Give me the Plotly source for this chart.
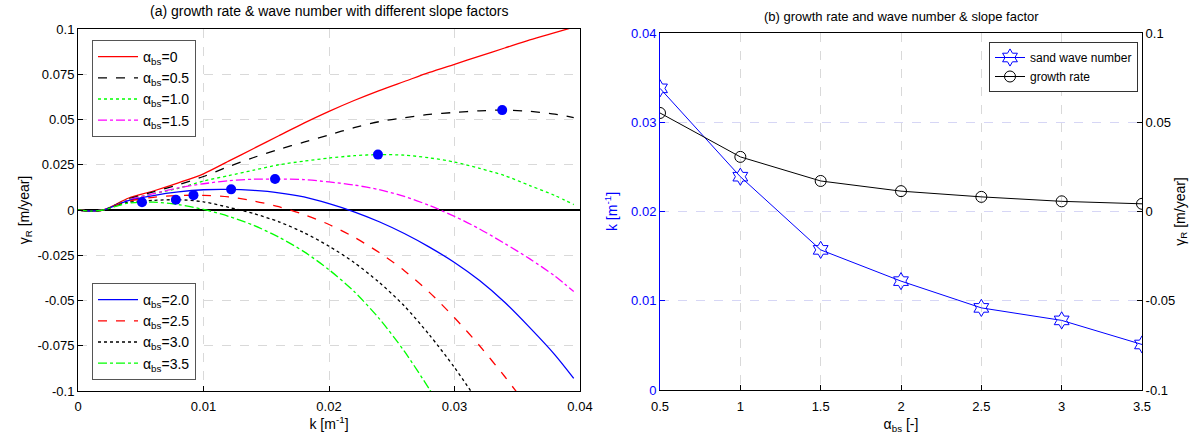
import plotly.graph_objects as go

# ---------------- data: panel (a) ----------------
k_grid = [0, 0.001, 0.002, 0.003, 0.004, 0.006, 0.008, 0.010, 0.012, 0.014, 0.016,
          0.018, 0.020, 0.022, 0.024, 0.026, 0.028, 0.030, 0.032, 0.034, 0.036, 0.038, 0.0395]

g_a00 = [0, -0.0006, 0.0, 0.003, 0.0065, 0.0105, 0.015, 0.020, 0.027, 0.034, 0.041,
         0.048, 0.0545, 0.0605, 0.066, 0.071, 0.076, 0.0805, 0.085, 0.0895, 0.094, 0.098, 0.101]
g_a05 = [0, -0.0006, 0.0, 0.0028, 0.006, 0.010, 0.014, 0.0185, 0.024, 0.029, 0.0335,
         0.0375, 0.0415, 0.0455, 0.0488, 0.051, 0.0528, 0.0539, 0.0548, 0.0552, 0.0545, 0.053, 0.051]
g_a10 = [0, -0.0006, 0.0, 0.0027, 0.0057, 0.009, 0.012, 0.016, 0.019, 0.022, 0.025,
         0.027, 0.0287, 0.030, 0.0306, 0.0303, 0.0288, 0.0265, 0.023, 0.019, 0.0135, 0.008, 0.003]
g_a15 = [0, -0.0006, 0.0, 0.0026, 0.0055, 0.009, 0.0122, 0.0145, 0.0162, 0.0170, 0.0171,
         0.0168, 0.0155, 0.0138, 0.0112, 0.0075, 0.0025, -0.0035, -0.0105, -0.0185, -0.027, -0.0365, -0.045]
g_a20 = [0, -0.0006, 0.0, 0.0025, 0.0052, 0.008, 0.010, 0.0112, 0.0114, 0.0108, 0.0095,
         0.0072, 0.0035, -0.0010, -0.0065, -0.0130, -0.0205, -0.0290, -0.0390, -0.0510, -0.0650, -0.0800, -0.093]

k_a25 = [0, 0.001, 0.002, 0.003, 0.004, 0.006, 0.008, 0.010, 0.012, 0.014, 0.016,
         0.018, 0.020, 0.022, 0.024, 0.026, 0.028, 0.030, 0.032, 0.034, 0.035, 0.036]
g_a25 = [0, -0.0006, 0.0, 0.0024, 0.0048, 0.007, 0.0080, 0.0081, 0.0072, 0.0050, 0.0018,
         -0.0025, -0.0080, -0.0150, -0.0235, -0.0335, -0.0455, -0.0595, -0.0750, -0.0920, -0.101, -0.110]

k_a30 = [0, 0.001, 0.002, 0.003, 0.004, 0.006, 0.008, 0.010, 0.012, 0.014, 0.016,
         0.018, 0.020, 0.022, 0.024, 0.026, 0.028, 0.030, 0.031, 0.032]
g_a30 = [0, -0.0006, 0.0, 0.0022, 0.0043, 0.0053, 0.0057, 0.0045, 0.0015, -0.0020, -0.0065,
         -0.0125, -0.0200, -0.0290, -0.0400, -0.0530, -0.0690, -0.0870, -0.097, -0.107]

k_a35 = [0, 0.001, 0.002, 0.003, 0.004, 0.006, 0.008, 0.010, 0.012, 0.014, 0.016,
         0.018, 0.020, 0.022, 0.024, 0.026, 0.028, 0.029]
g_a35 = [0, -0.0006, 0.0, 0.002, 0.0038, 0.0043, 0.003, 0.0003, -0.0035, -0.0085, -0.015,
         -0.023, -0.033, -0.045, -0.060, -0.078, -0.099, -0.110]

# peak points (maximum growth rate for each slope factor)
alpha_bs = [0.5, 1.0, 1.5, 2.0, 2.5, 3.0, 3.5]
k_peak = [0.0338, 0.0239, 0.0157, 0.0122, 0.0092, 0.0078, 0.0051]
g_peak = [0.0552, 0.0306, 0.0171, 0.0114, 0.0082, 0.0057, 0.0043]

# tick labels
a_xticks = [0, 0.01, 0.02, 0.03, 0.04]
a_xticktext = ["0", "0.01", "0.02", "0.03", "0.04"]
a_yticks = [0.1, 0.075, 0.05, 0.025, 0, -0.025, -0.05, -0.075, -0.1]
a_yticktext = ["0.1", "0.075", "0.05", "0.025", "0", "-0.025", "-0.05", "-0.075", "-0.1"]
b_xticks = [0.5, 1, 1.5, 2, 2.5, 3, 3.5]
b_xticktext = ["0.5", "1", "1.5", "2", "2.5", "3", "3.5"]
b_kticks = [0, 0.01, 0.02, 0.03, 0.04]
b_kticktext = ["0", "0.01", "0.02", "0.03", "0.04"]
b_gticks = [-0.1, -0.05, 0, 0.05, 0.1]
b_gticktext = ["-0.1", "-0.05", "0", "0.05", "0.1"]

FONT = "Arial, Liberation Sans, sans-serif"

fig = go.Figure()

curves = [
    (k_grid, g_a00, "α<sub>bs</sub>=0", "#ff0000", "solid", "legend"),
    (k_grid, g_a05, "α<sub>bs</sub>=0.5", "#000000", "dash", "legend"),
    (k_grid, g_a10, "α<sub>bs</sub>=1.0", "#00ff00", "dot", "legend"),
    (k_grid, g_a15, "α<sub>bs</sub>=1.5", "#ff00ff", "dashdot", "legend"),
    (k_grid, g_a20, "α<sub>bs</sub>=2.0", "#0000ff", "solid", "legend2"),
    (k_a25, g_a25, "α<sub>bs</sub>=2.5", "#ff0000", "dash", "legend2"),
    (k_a30, g_a30, "α<sub>bs</sub>=3.0", "#000000", "dot", "legend2"),
    (k_a35, g_a35, "α<sub>bs</sub>=3.5", "#00ff00", "dashdot", "legend2"),
]
for kx, gy, name, col, dash, leg in curves:
    fig.add_trace(go.Scatter(x=kx, y=gy, mode="lines", name=name, legend=leg,
                             line=dict(color=col, dash=dash, width=1.3, shape="spline", smoothing=0.8),
                             xaxis="x", yaxis="y"))

fig.add_trace(go.Scatter(x=k_peak, y=g_peak, mode="markers", showlegend=False,
                         marker=dict(color="#0000ff", size=10, symbol="circle"),
                         xaxis="x", yaxis="y"))

# ---------------- panel (b) ----------------
fig.add_trace(go.Scatter(x=alpha_bs, y=k_peak, mode="lines+markers", name="sand wave number",
                         legend="legend3",
                         line=dict(color="#0000ff", width=1),
                         marker=dict(symbol="hexagram-open", size=13, color="#0000ff",
                                     line=dict(width=1, color="#0000ff")),
                         xaxis="x2", yaxis="y2"))
fig.add_trace(go.Scatter(x=alpha_bs, y=g_peak, mode="lines+markers", name="growth rate",
                         legend="legend3",
                         line=dict(color="#000000", width=1),
                         marker=dict(symbol="circle-open", size=11, color="#000000",
                                     line=dict(width=1, color="#000000")),
                         xaxis="x2", yaxis="y3"))

W, H = 1204, 437
ax_common = dict(showline=True, linecolor="black", linewidth=1, mirror=True,
                 ticks="inside", ticklen=5, tickcolor="black", automargin=False,
                 tickfont=dict(family=FONT, size=13, color="black"))

fig.update_layout(
    width=W, height=H,
    margin=dict(l=0, r=0, t=0, b=0),
    paper_bgcolor="white", plot_bgcolor="white",
    font=dict(family=FONT, size=13, color="black"),
    xaxis=dict(domain=[78 / W, 580 / W], range=[0, 0.04], anchor="y",
               tickvals=a_xticks, ticktext=a_xticktext,
               showgrid=True, gridcolor="#d9d9d9", griddash="dash", gridwidth=1,
               zeroline=False, ticklabelstandoff=3,
               title=dict(text="k [m<sup>-1</sup>]", font=dict(size=14), standoff=6),
               **ax_common),
    yaxis=dict(domain=[(H - 391) / H, (H - 29) / H], range=[-0.1, 0.1], anchor="x",
               tickvals=a_yticks, ticktext=a_yticktext,
               showgrid=True, gridcolor="#d9d9d9", griddash="dash", gridwidth=1,
               zeroline=True, zerolinecolor="black", zerolinewidth=2,
               title=dict(text="γ<sub>R</sub> [m/year]", font=dict(size=14), standoff=4),
               **ax_common),
    xaxis2=dict(domain=[660 / W, 1142 / W], range=[0.5, 3.5], anchor="y2",
                tickvals=b_xticks, ticktext=b_xticktext,
                showgrid=True, gridcolor="#d9d9d9", griddash="dash", gridwidth=1,
                zeroline=False, automargin=False, ticklabelstandoff=4,
                title=dict(text="α<sub>bs</sub> [-]", font=dict(size=14), standoff=6),
                showline=True, linecolor="black", linewidth=1, mirror=True,
                ticks="inside", ticklen=5, tickcolor="black",
                tickfont=dict(family=FONT, size=13, color="black")),
    yaxis2=dict(domain=[(H - 390) / H, (H - 33) / H], range=[0, 0.04], anchor="x2",
                side="left", tickvals=b_kticks, ticktext=b_kticktext,
                showgrid=True, gridcolor="#d6d6f5", griddash="dash", gridwidth=1,
                zeroline=False, automargin=False,
                title=dict(text="k [m<sup>-1</sup>]", font=dict(size=14, color="#0000ff"), standoff=10),
                showline=True, linecolor="#0000ff", linewidth=1,
                ticks="inside", ticklen=5, tickcolor="#0000ff",
                tickfont=dict(family=FONT, size=13, color="#0000ff")),
    yaxis3=dict(domain=[(H - 390) / H, (H - 33) / H], range=[-0.1, 0.1], anchor="x2",
                overlaying="y2", side="right", tickvals=b_gticks, ticktext=b_gticktext,
                showgrid=False, zeroline=False, automargin=False,
                title=dict(text="γ<sub>R</sub> [m/year]", font=dict(size=14), standoff=0),
                showline=True, linecolor="black", linewidth=1,
                ticks="inside", ticklen=5, tickcolor="black",
                tickfont=dict(family=FONT, size=13, color="black")),
    legend=dict(x=92 / W, y=(H - 40) / H, xanchor="left", yanchor="top",
                bgcolor="white", bordercolor="#555555", borderwidth=1,
                font=dict(family=FONT, size=14), tracegroupgap=0, itemwidth=40),
    legend2=dict(x=92 / W, y=(H - 380) / H, xanchor="left", yanchor="bottom",
                 bgcolor="white", bordercolor="#555555", borderwidth=1,
                 font=dict(family=FONT, size=14), tracegroupgap=0, itemwidth=40),
    legend3=dict(x=1138 / W, y=(H - 42) / H, xanchor="right", yanchor="top",
                 bgcolor="white", bordercolor="#333333", borderwidth=1,
                 font=dict(family=FONT, size=12), tracegroupgap=0, itemwidth=30),
    annotations=[
        dict(text="(a) growth rate & wave number with different slope factors",
             x=329 / W, y=(H - 11) / H, xref="paper", yref="paper",
             xanchor="center", yanchor="middle",
             showarrow=False, font=dict(family=FONT, size=14)),
        dict(text="(b) growth rate and wave number & slope factor",
             x=901 / W, y=(H - 17) / H, xref="paper", yref="paper",
             xanchor="center", yanchor="middle",
             showarrow=False, font=dict(family=FONT, size=13)),
    ],
)

fig.write_html("out.html")
